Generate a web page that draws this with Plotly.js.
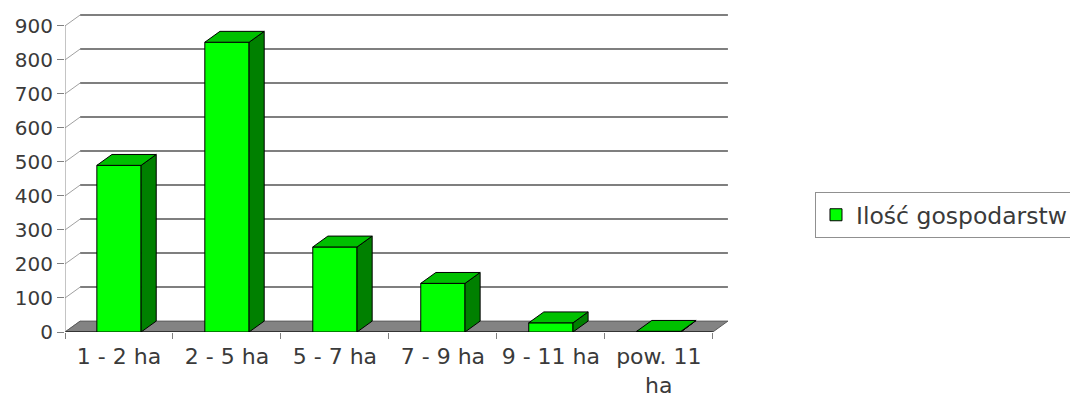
<!DOCTYPE html>
<html><head><meta charset="utf-8">
<script src="https://cdn.plot.ly/plotly-3.0.1.min.js"></script>
<style>body{margin:0;background:#fff}</style>
</head><body><div id="chart" style="width:1070px;height:403px"></div>
<script>
const categories = ['1 - 2 ha', '2 - 5 ha', '5 - 7 ha', '7 - 9 ha', '9 - 11 ha', 'pow. 11<br>ha'];
const values = [490, 852, 250, 143, 27, 2];
const seriesName = 'Ilość gospodarstw';
const yTickVals = [0, 100, 200, 300, 400, 500, 600, 700, 800, 900];

const DX = 0.14, DY = 32, W = 0.41;
const xs = categories.map((_, i) => i);
const xMin = -0.5, xMax = categories.length - 0.5;
const xRange = [xMin, xMax + DX + 0.01];
const FONT = 'DejaVu Sans, Liberation Sans, Arial, sans-serif';
const TXT = '#3a3a3a';

const traces = [{
  type: 'bar', x: xs, y: values, width: W, name: seriesName,
  marker: {color: '#00ff00', line: {color: '#000000', width: 1}},
  hoverinfo: 'y'
}];

xs.forEach((x, i) => {
  const v = values[i], l = x - W / 2, r = x + W / 2;
  traces.push({
    type: 'scatter', mode: 'lines', xaxis: 'x2', showlegend: false, hoverinfo: 'skip',
    x: [r, r + DX, r + DX, r, r], y: [0, DY, v + DY, v, 0],
    fill: 'toself', fillcolor: '#008000', line: {color: '#000000', width: 1}
  });
  traces.push({
    type: 'scatter', mode: 'lines', xaxis: 'x2', showlegend: false, hoverinfo: 'skip',
    x: [l, r, r + DX, l + DX, l], y: [v, v, v + DY, v + DY, v],
    fill: 'toself', fillcolor: '#00c000', line: {color: '#000000', width: 1}
  });
});

const shapes = [];
// back gridlines and left-wall diagonals
yTickVals.forEach(v => {
  if (v > 0) {
    shapes.push({type: 'line', xref: 'x', yref: 'y', layer: 'below',
      x0: xMin + DX, x1: xMax + DX, y0: v + DY, y1: v + DY,
      line: {color: '#7f7f7f', width: 2}});
  }
  shapes.push({type: 'line', xref: 'x', yref: 'y', layer: 'below',
    x0: xMin, x1: xMin + DX, y0: v, y1: v + DY,
    line: {color: '#a0a0a0', width: 1}});
});
// floor
shapes.push({
  type: 'path', xref: 'x', yref: 'y', layer: 'below',
  path: `M ${xMin},0 L ${xMax},0 L ${xMax + DX},${DY} L ${xMin + DX},${DY} Z`,
  fillcolor: '#838383', line: {color: '#5a5a5a', width: 1}
});
shapes.push({type: 'line', xref: 'x', yref: 'y', layer: 'below',
  x0: xMin, x1: xMax, y0: 0, y1: 0, line: {color: '#202020', width: 1.5}});
// front y axis line
shapes.push({type: 'line', xref: 'x', yref: 'y', layer: 'below',
  x0: xMin, x1: xMin, y0: 0, y1: yTickVals[yTickVals.length - 1],
  line: {color: '#8a8a8a', width: 1}});

const boundaries = categories.map((_, i) => i - 0.5).concat([xMax]);

const layout = {
  width: 1070, height: 403,
  margin: {l: 65, r: 341, t: 14, b: 71, autoexpand: false},
  paper_bgcolor: '#ffffff', plot_bgcolor: '#ffffff',
  showlegend: true,
  legend: {
    x: 1.1295, y: 0.368, xanchor: 'left', yanchor: 'middle',
    bordercolor: '#909090', borderwidth: 1, bgcolor: '#ffffff',
    itemwidth: 30, tracegroupgap: 0,
    font: {family: FONT, size: 23.5, color: TXT}
  },
  xaxis: {
    range: xRange, tickvals: boundaries, ticktext: boundaries.map(() => ''),
    ticks: 'outside', ticklen: 6, tickcolor: '#808080',
    showgrid: false, zeroline: false, showline: false, fixedrange: true
  },
  xaxis2: {
    range: xRange, overlaying: 'x', anchor: 'y', side: 'bottom',
    tickvals: xs, ticktext: categories, ticks: '', ticklabelstandoff: 9,
    showgrid: false, zeroline: false, showline: false,
    tickfont: {family: FONT, size: 22, color: TXT}, fixedrange: true
  },
  yaxis: {
    range: [0, 935], tickvals: yTickVals, ticks: 'outside', ticklen: 7,
    tickcolor: '#808080', showgrid: false, zeroline: false, showline: false,
    tickfont: {family: FONT, size: 20, color: TXT}, fixedrange: true
  },
  shapes: shapes
};

Plotly.newPlot('chart', traces, layout, {displayModeBar: false, staticPlot: true});
</script></body></html>
